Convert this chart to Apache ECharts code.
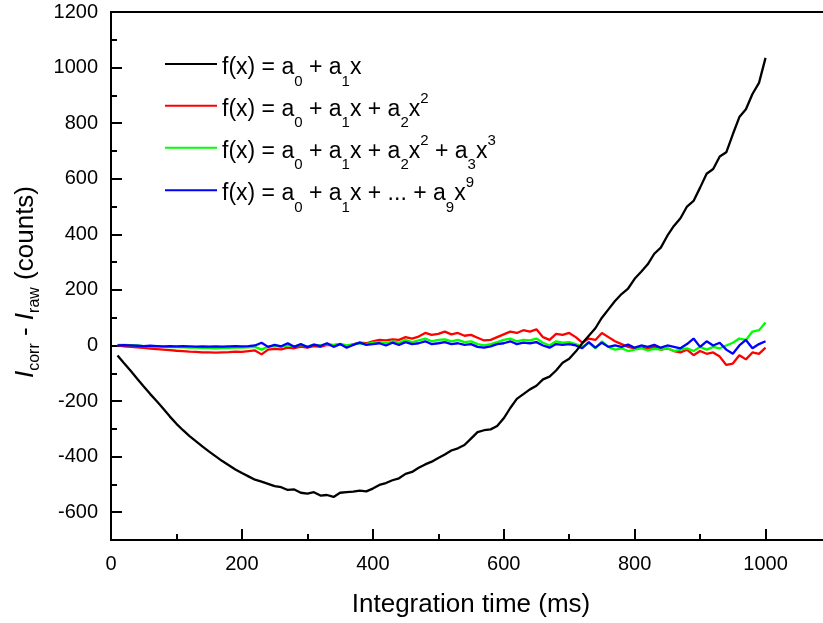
<!DOCTYPE html>
<html><head><meta charset="utf-8">
<script src="https://cdn.jsdelivr.net/npm/echarts@6/dist/echarts.min.js"></script>
<style>html,body{margin:0;padding:0;background:#fff}#c{width:823px;height:623px}</style>
</head><body><div id="c"></div>
<script>
// ---- data ----
const xVals = [10,20,30,40,50,60,70,80,90,100,
  110,120,130,140,150,160,170,180,190,200,
  210,220,230,240,250,260,270,280,290,300,
  310,320,330,340,350,360,370,380,390,400,
  410,420,430,440,450,460,470,480,490,500,
  510,520,530,540,550,560,570,580,590,600,
  610,620,630,640,650,660,670,680,690,700,
  710,720,730,740,750,760,770,780,790,800,
  810,820,830,840,850,860,870,880,890,900,
  910,920,930,940,950,960,970,980,990,1000];

const linFit = [-36,-64,-91,-120,-148,-175,-201,-228,-256,-282,
  -305,-326,-345,-364,-382,-399,-416,-431,-446,-459,
  -471,-483,-490,-498,-506,-510,-520,-518,-530,-533,
  -528,-540,-538,-545,-530,-528,-526,-522,-525,-515,
  -502,-495,-485,-478,-462,-455,-440,-428,-418,-405,
  -392,-378,-370,-358,-335,-312,-305,-302,-290,-262,
  -225,-192,-175,-158,-145,-122,-112,-90,-62,-48,
  -22,8,35,62,100,130,160,185,205,240,
  265,292,330,352,395,430,458,500,520,568,
  618,635,680,695,760,822,850,905,945,1035];

const quadFit = [0,-3,-5,-7,-9,-11,-13,-15,-17,-19,
  -20,-22,-23,-25,-25,-26,-25,-24,-22,-23,
  -20,-18,-32,-15,-12,-14,-8,-10,-4,-8,
  -2,-5,2,0,5,-2,4,10,8,15,
  20,18,22,20,30,25,32,45,38,42,
  50,40,45,35,38,28,18,20,30,40,
  50,45,55,50,58,30,20,42,38,45,
  30,10,25,20,45,30,15,5,-5,-10,
  -8,-12,-5,-15,-10,-20,-25,-15,-35,-20,
  -30,-25,-40,-70,-65,-35,-50,-25,-30,-8];

const cubicFit = [2,2,1,0,-2,-3,-4,-5,-6,-6,
  -7,-8,-8,-9,-9,-10,-9,-9,-8,-8,
  -7,-5,-15,-4,-2,-5,0,-3,2,-4,
  3,0,5,2,6,0,4,8,5,10,
  12,8,15,10,20,12,18,25,15,20,
  22,15,20,12,15,5,0,5,12,20,
  25,15,20,18,25,10,0,15,10,12,
  5,-5,10,-10,15,-5,-15,-10,-20,-15,
  -10,-18,-12,-15,-10,-20,-15,-10,-20,-5,
  -15,-5,-10,0,10,25,20,50,55,83];

const poly9Fit = [0,1,0,-1,-2,-1,-2,-3,-2,-3,
  -2,-3,-4,-3,-4,-3,-4,-3,-2,-3,
  -2,0,10,-5,2,-3,8,-5,5,-6,
  3,-2,8,-5,5,-8,2,10,2,5,
  8,0,10,2,12,5,8,15,5,8,
  12,5,8,2,5,-5,-8,-3,5,8,
  15,5,10,8,12,0,-8,5,2,5,
  0,-10,12,-8,10,-5,0,-5,3,-8,
  0,-5,2,-8,0,-5,-10,5,25,-5,
  15,0,10,-15,-30,0,20,-10,5,15];

const xMajorTicks = [0,200,400,600,800,1000];
const xMinorTicks = [100,300,500,700,900];
const yMajorTicks = [-600,-400,-200,0,200,400,600,800,1000,1200];
const yMinorTicks = [-700,-500,-300,-100,100,300,500,700,900,1100];

const seriesNames = ['lin','quad','cubic','poly9'];
const seriesLabels = [
  '{n|f(x) = a}{sub|0}{n| + a}{sub|1}{n|x}',
  '{n|f(x) = a}{sub|0}{n| + a}{sub|1}{n|x + a}{sub|2}{n|x}{sup|2}',
  '{n|f(x) = a}{sub|0}{n| + a}{sub|1}{n|x + a}{sub|2}{n|x}{sup|2}{n| + a}{sub|3}{n|x}{sup|3}',
  '{n|f(x) = a}{sub|0}{n| + a}{sub|1}{n|x + ... + a}{sub|9}{n|x}{sup|9}'
];
const seriesColors = ['#000000','#ff0000','#00ff00','#0000ff'];
const seriesValues = [linFit, quadFit, cubicFit, poly9Fit];

// ---- chart ----
const FONT = '"Liberation Sans", Arial, sans-serif';
const chart = echarts.init(document.getElementById('c'), null, {renderer: 'canvas'});

const legendCenters = [64, 105.7, 147.7, 190.3];
const LH = 50;
const legendRich = {
  n: {fontSize: 23, fontFamily: FONT, color: '#000', lineHeight: LH, padding: [7,0,0,0]},
  sub: {fontSize: 15, fontFamily: FONT, color: '#000', lineHeight: LH, verticalAlign: 'bottom'},
  sup: {fontSize: 15, fontFamily: FONT, color: '#000', lineHeight: LH, padding: [0,0,14,0]}
};

const legends = seriesNames.map((nm, i) => ({
  show: true,
  data: [nm],
  orient: 'vertical',
  left: 165,
  top: legendCenters[i] - 15,
  padding: 0,
  icon: 'rect',
  itemWidth: 52,
  itemHeight: 2,
  selectedMode: false,
  formatter: () => seriesLabels[i],
  textStyle: {rich: legendRich, fontFamily: FONT, color: '#000'}
}));

const series = seriesNames.map((nm, i) => ({
  name: nm,
  type: 'line',
  xAxisIndex: 0,
  yAxisIndex: 0,
  data: xVals.map((x, j) => [x, seriesValues[i][j]]),
  showSymbol: false,
  symbol: 'none',
  lineStyle: {color: seriesColors[i], width: 2.3},
  itemStyle: {color: seriesColors[i]},
  z: i === 0 ? 6 : 2 + i,
  animation: false
}));

const plain = v => String(v);

chart.setOption({
  animation: false,
  backgroundColor: '#fff',
  grid: {left: 111, top: 12, bottom: 83, right: -8, containLabel: false, outerBoundsMode: 'none',
         show: true, borderColor: '#000', borderWidth: 2, backgroundColor: 'transparent'},
  legend: legends,
  xAxis: [
    {
      type: 'value', min: 0, max: 1100, position: 'bottom', splitLine: {show: false},
      axisLine: {show: true, onZero: false, lineStyle: {color: '#000', width: 2}},
      axisTick: {show: true, inside: true, length: 11, lineStyle: {color: '#000', width: 2}, customValues: xMajorTicks},
      axisLabel: {show: true, customValues: xMajorTicks, formatter: plain, fontSize: 20, fontFamily: FONT, color: '#000', margin: 14},
      name: 'Integration time (ms)', nameLocation: 'middle', nameGap: 52,
      nameTextStyle: {fontSize: 26, fontFamily: FONT, color: '#000'}
    },
    {
      type: 'value', min: 0, max: 1100, position: 'bottom', splitLine: {show: false},
      axisLine: {show: false, onZero: false},
      axisTick: {show: true, inside: true, length: 6, lineStyle: {color: '#000', width: 2}, customValues: xMinorTicks},
      axisLabel: {show: false}
    }
  ],
  yAxis: [
    {
      type: 'value', min: -700, max: 1200, position: 'left', splitLine: {show: false},
      axisLine: {show: true, onZero: false, lineStyle: {color: '#000', width: 2}},
      axisTick: {show: true, inside: true, length: 11, lineStyle: {color: '#000', width: 2}, customValues: yMajorTicks},
      axisLabel: {show: true, customValues: yMajorTicks, formatter: plain, fontSize: 20, fontFamily: FONT, color: '#000', margin: 13},
      name: '{i|I}{sub|corr}{n| - }{i|I}{sub|raw}{n| (counts)}',
      nameLocation: 'middle', nameGap: 51,
      nameTextStyle: {
        padding: [0, 12, 0, 0],
        rich: {
          i: {fontSize: 26, fontStyle: 'italic', fontFamily: FONT, color: '#000', lineHeight: 30},
          n: {fontSize: 26, fontFamily: FONT, color: '#000', lineHeight: 30},
          sub: {fontSize: 16, fontFamily: FONT, color: '#000', lineHeight: 30, padding: [18,0,0,0]}
        }
      }
    },
    {
      type: 'value', min: -700, max: 1200, position: 'left', splitLine: {show: false},
      axisLine: {show: false, onZero: false},
      axisTick: {show: true, inside: true, length: 6, lineStyle: {color: '#000', width: 2}, customValues: yMinorTicks},
      axisLabel: {show: false}
    }
  ],
  series: series
});
</script></body></html>
